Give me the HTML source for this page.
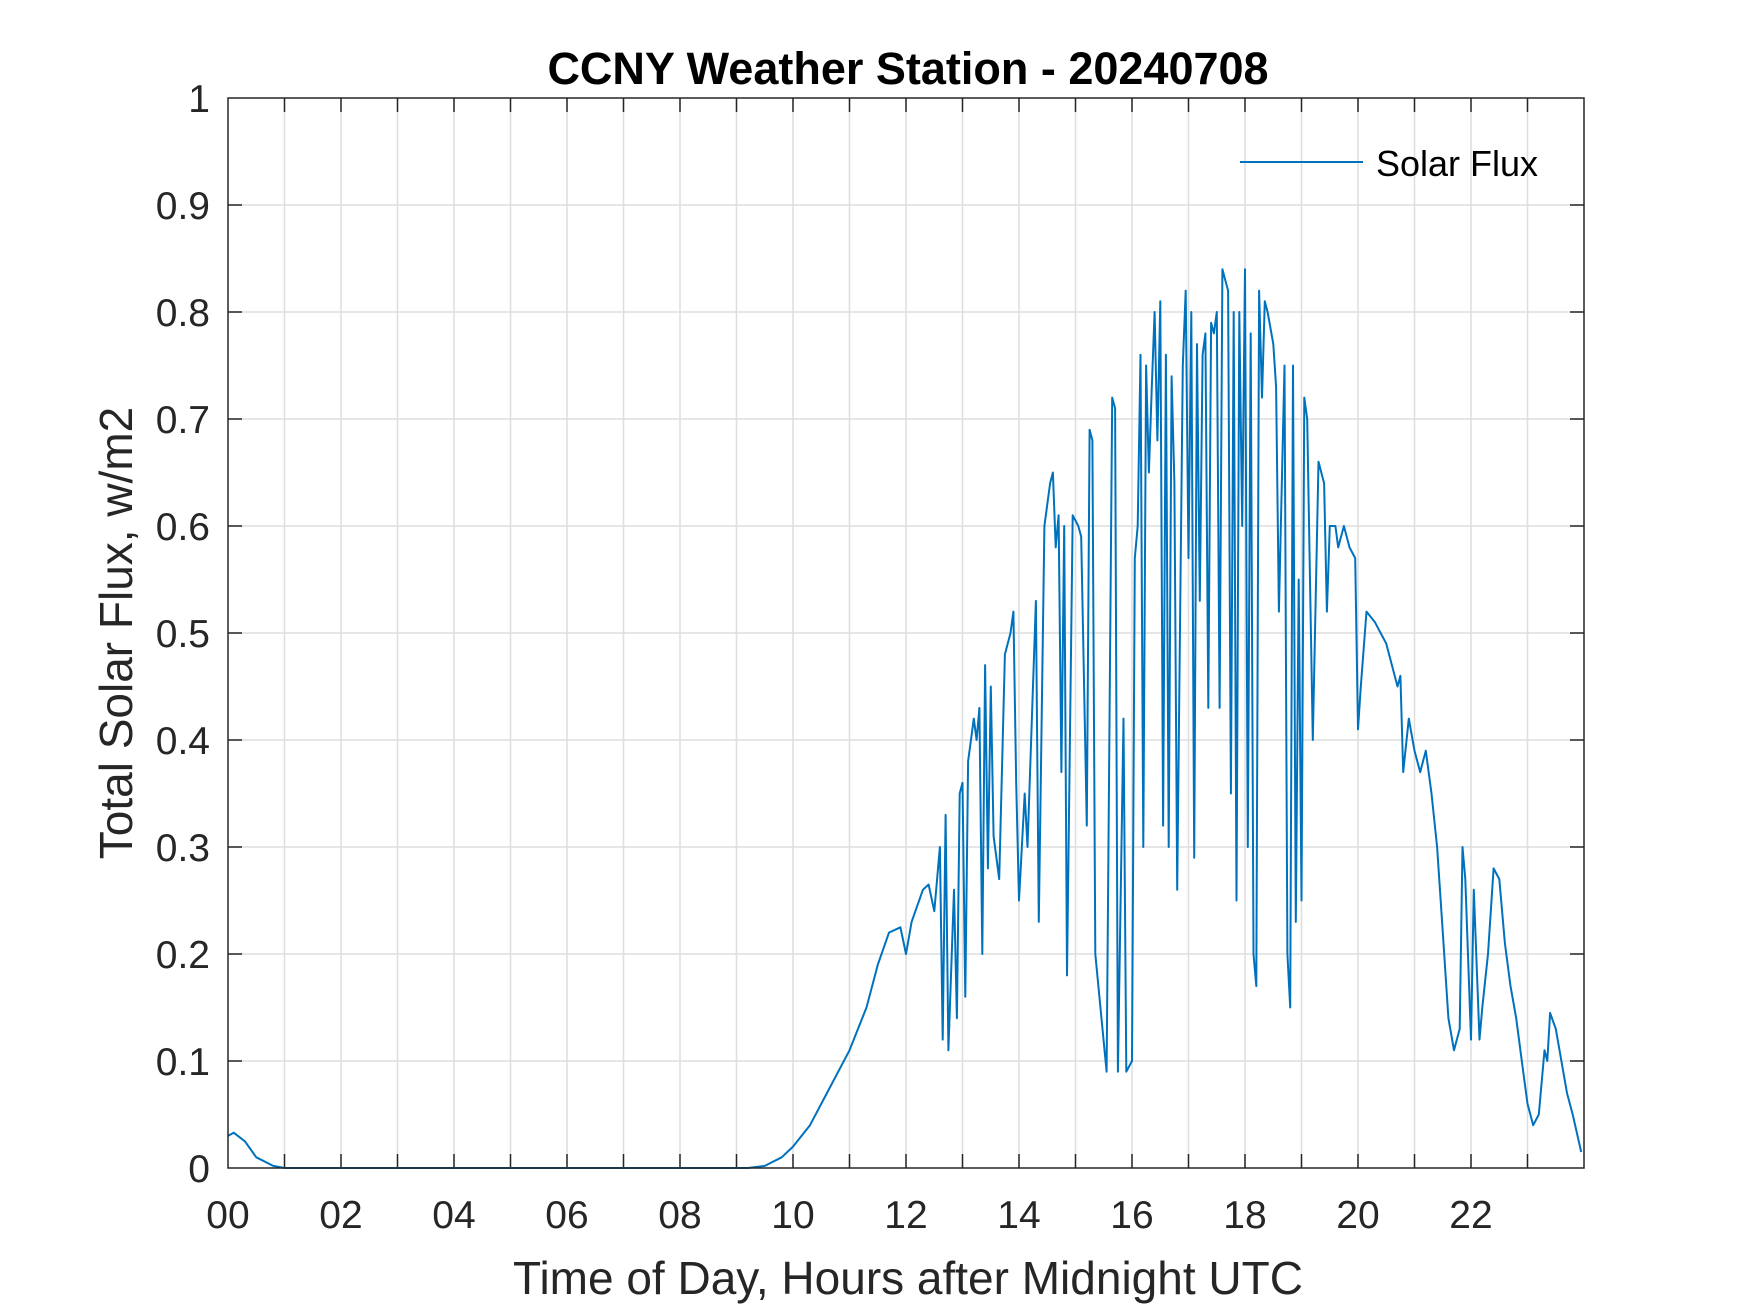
<!DOCTYPE html>
<html><head><meta charset="utf-8"><style>
html,body{margin:0;padding:0;background:#fff}
svg{display:block}
text{font-family:"Liberation Sans",sans-serif;fill:#262626}
</style></head><body>
<svg id="chart" width="1750" height="1313" viewBox="0 0 1750 1313" xmlns="http://www.w3.org/2000/svg">
<rect x="228" y="98" width="1356" height="1070" fill="#fff"/>
<g id="grid"></g>
<g id="ticks"></g>
<path id="series" fill="none" stroke="#0072BD" stroke-width="2" stroke-linejoin="round"/>
<rect x="228" y="98" width="1356" height="1070" fill="none" stroke="#262626" stroke-width="1.5"/>
<g id="xlabels"></g>
<g id="ylabels"></g>
<text x="908" y="84" text-anchor="middle" font-size="45" font-weight="bold" style="fill:#000">CCNY Weather Station - 20240708</text>
<text x="908" y="1294" text-anchor="middle" font-size="46">Time of Day, Hours after Midnight UTC</text>
<text transform="translate(132,633) rotate(-90)" text-anchor="middle" font-size="46">Total Solar Flux, w/m2</text>
<g>
<line x1="1240" y1="162" x2="1363" y2="162" stroke="#0072BD" stroke-width="2"/>
<text x="1376" y="176" font-size="36" style="fill:#000">Solar Flux</text>
</g>
</svg>
<script>
const hours=[0,0.1,0.3,0.5,0.8,1,9.2,9.5,9.8,10,10.3,10.6,11,11.3,11.5,11.7,11.9,12,12.1,12.3,12.4,12.5,12.6,12.65,12.7,12.75,12.85,12.9,12.95,13.0,13.05,13.1,13.2,13.25,13.3,13.35,13.4,13.45,13.5,13.55,13.65,13.75,13.85,13.9,13.95,14.0,14.1,14.15,14.3,14.35,14.45,14.55,14.6,14.65,14.7,14.75,14.8,14.85,14.95,15.05,15.1,15.2,15.25,15.3,15.35,15.55,15.65,15.7,15.75,15.85,15.9,16.0,16.05,16.1,16.15,16.2,16.25,16.3,16.35,16.4,16.45,16.5,16.55,16.6,16.65,16.7,16.75,16.8,16.9,16.95,17.0,17.05,17.1,17.15,17.2,17.25,17.3,17.35,17.4,17.45,17.5,17.55,17.6,17.65,17.7,17.75,17.8,17.85,17.9,17.95,18.0,18.05,18.1,18.15,18.2,18.25,18.3,18.35,18.4,18.5,18.55,18.6,18.7,18.75,18.8,18.85,18.9,18.95,19.0,19.05,19.1,19.2,19.3,19.4,19.45,19.5,19.6,19.65,19.75,19.85,19.95,20.0,20.05,20.15,20.3,20.5,20.6,20.7,20.75,20.8,20.9,21.0,21.1,21.2,21.3,21.4,21.5,21.6,21.7,21.8,21.85,21.9,22.0,22.05,22.15,22.2,22.3,22.4,22.5,22.6,22.7,22.8,22.9,23.0,23.1,23.2,23.3,23.35,23.4,23.5,23.6,23.7,23.8,23.95];
const flux=[0.03,0.033,0.025,0.01,0.002,0,0,0.002,0.01,0.02,0.04,0.07,0.11,0.15,0.19,0.22,0.225,0.2,0.23,0.26,0.265,0.24,0.3,0.12,0.33,0.11,0.26,0.14,0.35,0.36,0.16,0.38,0.42,0.4,0.43,0.2,0.47,0.28,0.45,0.31,0.27,0.48,0.5,0.52,0.36,0.25,0.35,0.3,0.53,0.23,0.6,0.64,0.65,0.58,0.61,0.37,0.6,0.18,0.61,0.6,0.59,0.32,0.69,0.68,0.2,0.09,0.72,0.71,0.09,0.42,0.09,0.1,0.57,0.6,0.76,0.3,0.75,0.65,0.73,0.8,0.68,0.81,0.32,0.76,0.3,0.74,0.64,0.26,0.75,0.82,0.57,0.8,0.29,0.77,0.53,0.76,0.78,0.43,0.79,0.78,0.8,0.43,0.84,0.83,0.82,0.35,0.8,0.25,0.8,0.6,0.84,0.3,0.78,0.2,0.17,0.82,0.72,0.81,0.8,0.77,0.73,0.52,0.75,0.2,0.15,0.75,0.23,0.55,0.25,0.72,0.7,0.4,0.66,0.64,0.52,0.6,0.6,0.58,0.6,0.58,0.57,0.41,0.45,0.52,0.51,0.49,0.47,0.45,0.46,0.37,0.42,0.39,0.37,0.39,0.35,0.3,0.22,0.14,0.11,0.13,0.3,0.27,0.12,0.26,0.12,0.15,0.2,0.28,0.27,0.21,0.17,0.14,0.1,0.06,0.04,0.05,0.11,0.1,0.145,0.13,0.1,0.07,0.05,0.015];
const xTickLabels=["00","02","04","06","08","10","12","14","16","18","20","22"];
const yTickLabels=["0","0.1","0.2","0.3","0.4","0.5","0.6","0.7","0.8","0.9","1"];
const L=228,R=1584,T=98,B=1168;
function xs(h){return L+(R-L)*h/24;}
function ys(v){return B-(B-T)*v;}
const NS="http://www.w3.org/2000/svg";
const grid=document.getElementById('grid'),ticks=document.getElementById('ticks');
function ln(g,x1,y1,x2,y2,c,w){const e=document.createElementNS(NS,'line');e.setAttribute('x1',x1);e.setAttribute('y1',y1);e.setAttribute('x2',x2);e.setAttribute('y2',y2);e.setAttribute('stroke',c);e.setAttribute('stroke-width',w);g.appendChild(e);return e;}
for(let h=1;h<24;h++){
  const g=ln(grid,xs(h),T,xs(h),B,'#dedede',1.5);
  
  
  const t1=ln(ticks,xs(h),B,xs(h),B-14,'#262626',1.5);
  
  
  const t2=ln(ticks,xs(h),T,xs(h),T+14,'#262626',1.5);
  
  
}
for(let i=1;i<yTickLabels.length-1;i++){
  const v=parseFloat(yTickLabels[i]);
  const g=ln(grid,L,ys(v),R,ys(v),'#dedede',1.5);
  
  
  const t1=ln(ticks,L,ys(v),L+14,ys(v),'#262626',1.5);
  
  
  const t2=ln(ticks,R,ys(v),R-14,ys(v),'#262626',1.5);
  
  
}
const xl=document.getElementById('xlabels');
xTickLabels.forEach((s)=>{const h=parseInt(s,10);const e=document.createElementNS(NS,'text');
  
  
  e.setAttribute('x',xs(h));e.setAttribute('y',1228);e.setAttribute('text-anchor','middle');e.setAttribute('font-size','39');e.textContent=s;xl.appendChild(e);});
const yl=document.getElementById('ylabels');
yTickLabels.forEach((s)=>{const v=parseFloat(s);const e=document.createElementNS(NS,'text');
  
  
  e.setAttribute('x',210);e.setAttribute('y',ys(v)+14);e.setAttribute('text-anchor','end');e.setAttribute('font-size','39');e.textContent=s;yl.appendChild(e);});
let d='';hours.forEach((h,i)=>{d+=(i?'L':'M')+xs(h).toFixed(1)+' '+ys(flux[i]).toFixed(1);});
document.getElementById('series').setAttribute('d',d);
</script>
</body></html>
